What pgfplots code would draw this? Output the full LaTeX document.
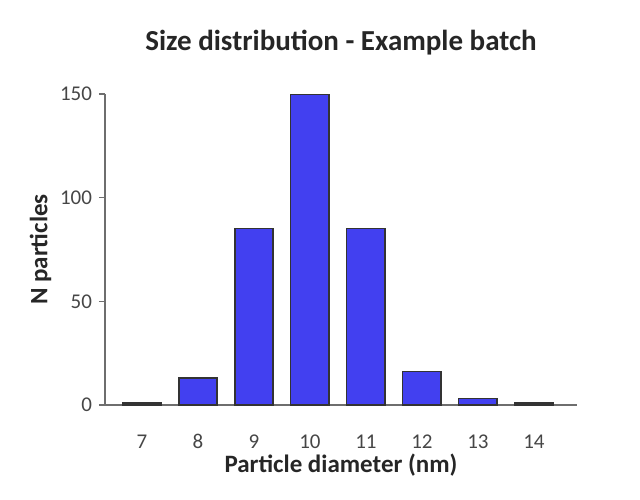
\documentclass[border=0pt]{standalone}
\usepackage{pgfplots}
\pgfplotsset{compat=1.18}
\usepackage{fontspec}
\setmainfont{Carlito}
\definecolor{barblue}{RGB}{66,64,240}
\definecolor{axgray}{RGB}{110,110,110}
\definecolor{txtgray}{RGB}{70,70,70}

\begin{document}
\begin{tikzpicture}
  \path[use as bounding box] (-52.5pt,-47pt) rectangle (267.5pt,202.5pt);
  \begin{axis}[
      at={(0,0)}, anchor=south west,
      scale only axis,
      width=236pt, height=155.5pt,
      ybar, bar width=0.68,
      axis lines=left,
      axis line style={draw=axgray, line width=0.8pt, -},
      xmin=6.34, xmax=14.77,
      ymin=0, ymax=150,
      xtick={7,...,14},
      ytick={0,50,100,150},
      x tick style={draw=none},
      y tick style={draw=axgray, line width=0.8pt},
      tick align=outside,
      major tick length=3pt,
      ticklabel style={font=\fontsize{10.5}{12}\selectfont, text=txtgray},
      /pgf/number format/assume math mode=true,
      xticklabel style={anchor=base, yshift=-18.5pt},
      xlabel={\textbf{Particle diameter (nm)}},
      ylabel={\textbf{N particles}},
      label style={font=\fontsize{12.5}{14}\selectfont, text=black!85},
      xlabel style={yshift=4pt},
      ylabel style={yshift=-2.5pt},
      title={\textbf{Size distribution - Example batch}},
      title style={font=\fontsize{14.5}{16}\selectfont, text=black!85, yshift=10pt},
    ]
    \addplot[fill=barblue, draw=black!80, line width=0.6pt] coordinates {
      (7,1) (8,13) (9,85) (10,150) (11,85) (12,16) (13,3) (14,1)
    };
  \end{axis}
\end{tikzpicture}
\end{document}
